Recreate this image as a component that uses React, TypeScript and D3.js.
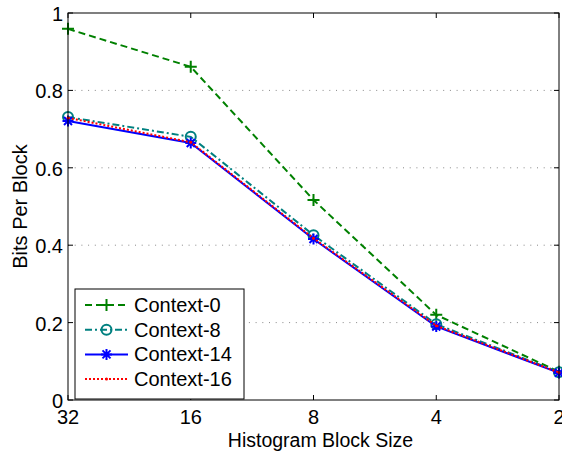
import React from "react";
import * as d3 from "d3";

const blockSizes = [32, 16, 8, 4, 2];
const xTickLabels = ["32", "16", "8", "4", "2"];
const yTicks = [0, 0.2, 0.4, 0.6, 0.8, 1];
const yTickLabels = ["0", "0.2", "0.4", "0.6", "0.8", "1"];
const seriesNames = ["Context-0", "Context-8", "Context-14", "Context-16"];
const context0 = [0.959, 0.861, 0.517, 0.22, 0.073];
const context8 = [0.731, 0.68, 0.426, 0.196, 0.072];
const context14 = [0.721, 0.664, 0.416, 0.19, 0.07];
const context16 = [0.729, 0.666, 0.418, 0.192, 0.071];

const W = 562, H = 455;
const L = 68, R = 559, T = 13, B = 400;

const styles = [
  { color: "#008000", dash: "7,4", marker: "plus" },
  { color: "#008080", dash: "7,3,2,3", marker: "circle" },
  { color: "#0000ff", dash: "", marker: "star" },
  { color: "#ff0000", dash: "2,2", marker: "dot" },
];

function Marker({ type, x, y, color }: { type: string; x: number; y: number; color: string }) {
  if (type === "plus")
    return <path d={`M${x - 6},${y}H${x + 6}M${x},${y - 6}V${y + 6}`} stroke={color} strokeWidth={2} />;
  if (type === "circle")
    return <circle cx={x} cy={y} r={5} fill="none" stroke={color} strokeWidth={2} />;
  if (type === "star")
    return (
      <path
        d={`M${x - 5.5},${y}H${x + 5.5}M${x},${y - 5.5}V${y + 5.5}M${x - 4},${y - 4}L${x + 4},${y + 4}M${x - 4},${y + 4}L${x + 4},${y - 4}`}
        stroke={color}
        strokeWidth={2}
      />
    );
  return <circle cx={x} cy={y} r={1.5} fill={color} />;
}

export default function App() {
  const x = d3.scaleLog().base(2).domain([32, 2]).range([L, R]);
  const y = d3.scaleLinear().domain([0, 1]).range([B, T]);
  const data = [context0, context8, context14, context16];
  const line = d3
    .line<number>()
    .x((_, i) => x(blockSizes[i]))
    .y((d) => y(d));
  const font = "Liberation Sans, Arial, Helvetica, sans-serif";
  const fs = 20;

  return (
    <svg width={W} height={H} style={{ position: "absolute", left: 0, top: 0 }} fontFamily={font}>
      <rect width={W} height={H} fill="white" />
      {yTicks.slice(1, -1).map((t) => (
        <line key={t} x1={L} x2={R} y1={y(t)} y2={y(t)} stroke="#888" strokeDasharray="1,5.7" strokeWidth={1} />
      ))}
      {data.map((d, si) => (
        <g key={si}>
          <path d={line(d) || ""} fill="none" stroke={styles[si].color} strokeWidth={2} strokeDasharray={styles[si].dash} />
          {d.map((v, i) => (
            <Marker key={i} type={styles[si].marker} x={x(blockSizes[i])} y={y(v)} color={styles[si].color} />
          ))}
        </g>
      ))}
      <rect x={L} y={T} width={R - L} height={B - T} fill="none" stroke="black" strokeWidth={1} />
      {blockSizes.map((b, i) => (
        <g key={b}>
          <line x1={x(b)} x2={x(b)} y1={B} y2={B - 5} stroke="black" />
          <line x1={x(b)} x2={x(b)} y1={T} y2={T + 5} stroke="black" />
          <text x={x(b)} y={424} fontSize={fs} textAnchor="middle">
            {xTickLabels[i]}
          </text>
        </g>
      ))}
      {yTicks.map((t, i) => (
        <g key={t}>
          <line x1={L} x2={L + 5} y1={y(t)} y2={y(t)} stroke="black" />
          <line x1={R} x2={R - 5} y1={y(t)} y2={y(t)} stroke="black" />
          <text x={L - 5} y={y(t) + 8} fontSize={fs} textAnchor="end">
            {yTickLabels[i]}
          </text>
        </g>
      ))}
      <text x={(L + R) / 2 + 7} y={447} fontSize={19.5} textAnchor="middle">
        Histogram Block Size
      </text>
      <text transform={`translate(27,${(T + B) / 2}) rotate(-90)`} fontSize={20} textAnchor="middle">
        Bits Per Block
      </text>
      <g>
        <rect x={75} y={289} width={169} height={110} fill="white" stroke="black" strokeWidth={1} />
        {seriesNames.map((n, i) => {
          const yy = 305 + i * 24.7;
          const s = styles[i];
          return (
            <g key={n}>
              <line x1={85} x2={128} y1={yy} y2={yy} stroke={s.color} strokeWidth={2} strokeDasharray={s.dash} />
              <Marker type={s.marker} x={106.5} y={yy} color={s.color} />
              <text x={134} y={yy + 7} fontSize={fs}>
                {n}
              </text>
            </g>
          );
        })}
      </g>
    </svg>
  );
}
